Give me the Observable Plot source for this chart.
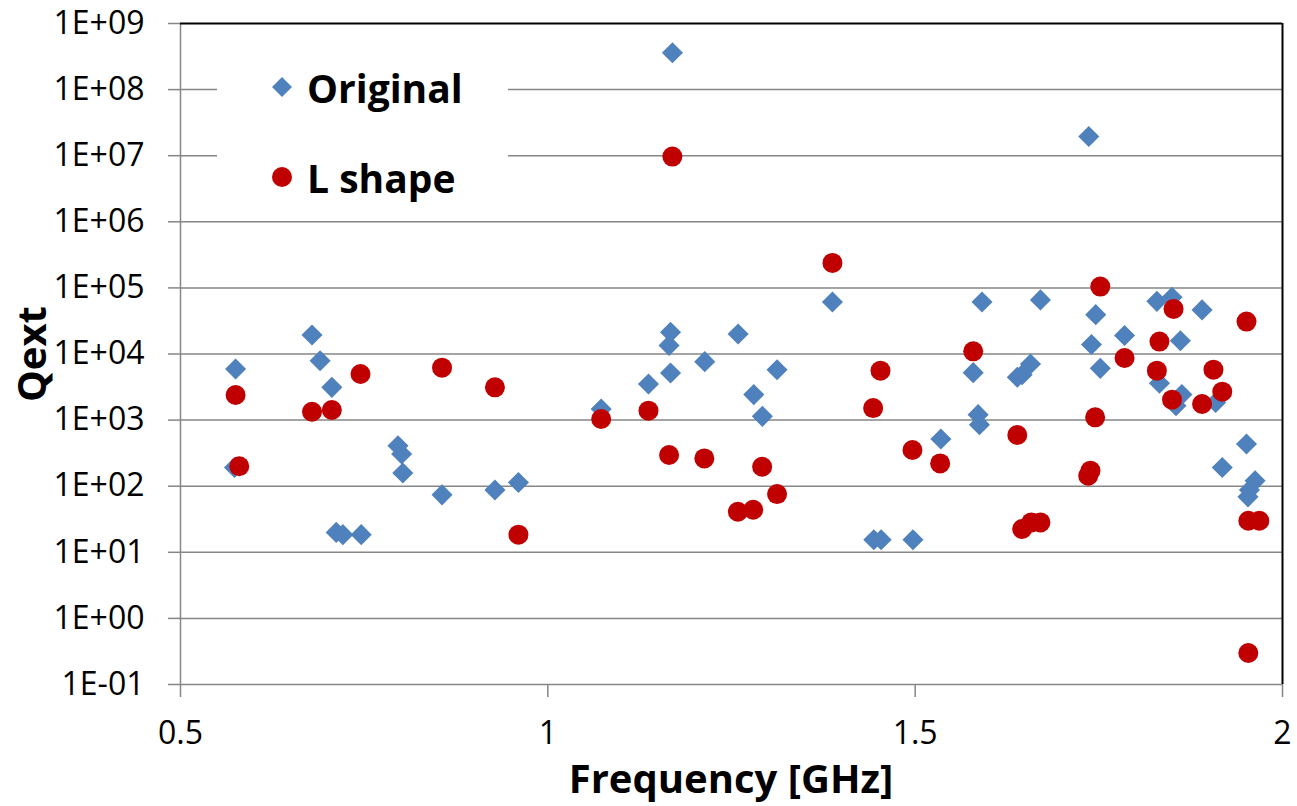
<!DOCTYPE html>
<html>
<head>
<meta charset="utf-8">
<script src="https://cdn.jsdelivr.net/npm/d3@7"></script>
<script src="https://cdn.jsdelivr.net/npm/@observablehq/plot@0.6"></script>
<style>
  html, body { margin: 0; padding: 0; background: #fff; }
  #wrap { position: relative; width: 1297px; height: 806px; font-family: "Open Sans", sans-serif; }
  #legend { position: absolute; left: 217px; top: 30px; width: 291px; height: 190px; background: #fff; }
  .li { position: absolute; left: 0; display: flex; align-items: center; font-weight: bold; font-size: 39px; color: #000; }
  #xtitle { position: absolute; left: 180px; width: 1102px; top: 750px; text-align: center; font-weight: bold; font-size: 40px; color: #000; }
  #ytitle { position: absolute; left: 30px; top: 354px; transform: translate(-50%, -50%) rotate(-90deg); font-weight: bold; font-size: 40px; color: #000; white-space: nowrap; }
  svg text { font-family: "Open Sans", sans-serif; }
</style>
</head>
<body>
<div id="wrap"></div>
<script>
// Data
const origFreq = [0.575, 0.5735, 0.679, 0.690, 0.706, 0.712, 0.721, 0.746, 0.796, 0.801, 0.8026, 0.856, 0.928, 0.960,
  1.0726, 1.137, 1.167, 1.165, 1.167, 1.1696, 1.2136, 1.259, 1.2803, 1.292, 1.312, 1.3874, 1.4437, 1.4537, 1.497,
  1.535, 1.579, 1.5857, 1.5875, 1.591, 1.639, 1.6456, 1.657, 1.6705, 1.7363, 1.740, 1.7458, 1.752, 1.785, 1.829,
  1.8325, 1.8496, 1.855, 1.861, 1.863, 1.8905, 1.909, 1.918, 1.951, 1.953, 1.955, 1.9627];
const origQ = [5940, 192, 19400, 7900, 3130, 20, 18.5, 18.5, 410, 307, 158, 74, 87.5, 114,
  1470, 3520, 21300, 13500, 5170, 3.6e8, 7660, 20100, 2430, 1140, 5790, 61300, 15.5, 15.5, 15.5,
  518, 5220, 1210, 853, 61300, 4440, 4860, 7060, 65800, 1.95e7, 13900, 39400, 6070, 19000, 62600,
  3600, 72000, 1650, 15900, 2430, 46500, 1850, 192, 436, 69, 87.5, 121];

const lFreq = [0.575, 0.580, 0.679, 0.706, 0.745, 0.856, 0.928, 0.960, 1.0726, 1.137, 1.165, 1.1695, 1.213,
  1.2587, 1.2795, 1.2917, 1.312, 1.3874, 1.4428, 1.4528, 1.4963, 1.534, 1.579, 1.639, 1.6456, 1.658, 1.6705,
  1.7355, 1.7386, 1.745, 1.752, 1.785, 1.829, 1.8325, 1.8496, 1.8517, 1.8905, 1.906, 1.918, 1.951, 1.9535,
  1.9685, 1.9535];
const lQ = [2400, 200, 1340, 1420, 4990, 6210, 3130, 18.5, 1040, 1390, 296, 9.7e6, 263,
  41, 44, 197, 76, 239000, 1520, 5600, 353, 221, 10960, 596, 22.5, 28.3, 28.3,
  144, 172, 1100, 104600, 8710, 5600, 15400, 2040, 48100, 1750, 5790, 2690, 30900, 30,
  30, 0.3];

const seriesNames = ["Original", "L shape"];
const seriesColors = ["#4F81BD", "#C00000"];
const xTicks = [0.5, 1, 1.5, 2];
const yTicks = [1e-1, 1e0, 1e1, 1e2, 1e3, 1e4, 1e5, 1e6, 1e7, 1e8, 1e9];
const xDomain = [0.5, 2];
const yDomain = [1e-1, 1e9];
const xTitle = "Frequency [GHz]";
const yTitle = "Qext";

const orig = origFreq.map((f, i) => ({f, q: origQ[i]}));
const lsh = lFreq.map((f, i) => ({f, q: lQ[i]}));

const fmtE = d => {
  const e = Math.round(Math.log10(d));
  return "1E" + (e < 0 ? "-" : "+") + String(Math.abs(e)).padStart(2, "0");
};

const grey = "#868686";

const chart = Plot.plot({
  width: 1297,
  height: 806,
  marginLeft: 180,
  marginRight: 15,
  marginTop: 23,
  marginBottom: 122,
  style: {fontFamily: "'Open Sans', sans-serif", fontSize: "31px", background: "transparent", color: "#000"},
  x: {type: "linear", domain: xDomain},
  y: {type: "log", domain: yDomain},
  marks: [
    Plot.ruleY(yTicks.slice(1, -1), {y: d => d, stroke: grey, strokeWidth: 1.5}),
    Plot.axisY({ticks: yTicks, tickFormat: fmtE, tickSize: 12, tickPadding: 24, stroke: grey, strokeWidth: 1.5, fill: "#000", fontSize: 32, label: null}),
    Plot.axisX({ticks: xTicks, tickFormat: d => String(d), tickSize: 13, tickPadding: 24, stroke: grey, strokeWidth: 1.5, fill: "#000", fontSize: 32, label: null}),
    Plot.ruleX([xDomain[0]], {x: d => d, stroke: grey, strokeWidth: 1.5}),
    Plot.ruleY([yDomain[0]], {y: d => d, stroke: grey, strokeWidth: 1.5}),
    Plot.ruleY([yDomain[1]], {y: d => d, stroke: "#000", strokeWidth: 2}),
    Plot.ruleX([xDomain[1]], {x: d => d, stroke: "#000", strokeWidth: 2}),
    Plot.dot(orig, {x: "f", y: "q", symbol: "diamond2", r: 9.5, fill: seriesColors[0], stroke: "none"}),
    Plot.dot(lsh, {x: "f", y: "q", symbol: "circle", r: 10, fill: seriesColors[1], stroke: "none"})
  ]
});

const wrap = document.getElementById("wrap");
wrap.appendChild(chart);

// Legend (white box over the gridlines, as in the reference)
const legend = document.createElement("div");
legend.id = "legend";
const shapes = [
  `<svg width="22" height="22" viewBox="-11 -11 22 22"><path d="M0,-10L10,0L0,10L-10,0Z" fill="${seriesColors[0]}"/></svg>`,
  `<svg width="22" height="22" viewBox="-11 -11 22 22"><circle r="10" fill="${seriesColors[1]}"/></svg>`
];
const rowCenters = [57, 147];
seriesNames.forEach((name, i) => {
  const row = document.createElement("div");
  row.className = "li";
  row.style.top = (rowCenters[i] - 28) + "px";
  row.style.height = "56px";
  row.style.left = "54px";
  row.innerHTML = shapes[i] + `<span style="margin-left:14px">${name}</span>`;
  legend.appendChild(row);
});
wrap.appendChild(legend);

const xt = document.createElement("div");
xt.id = "xtitle";
xt.textContent = xTitle;
wrap.appendChild(xt);

const yt = document.createElement("div");
yt.id = "ytitle";
yt.textContent = yTitle;
wrap.appendChild(yt);
</script>
</body>
</html>
